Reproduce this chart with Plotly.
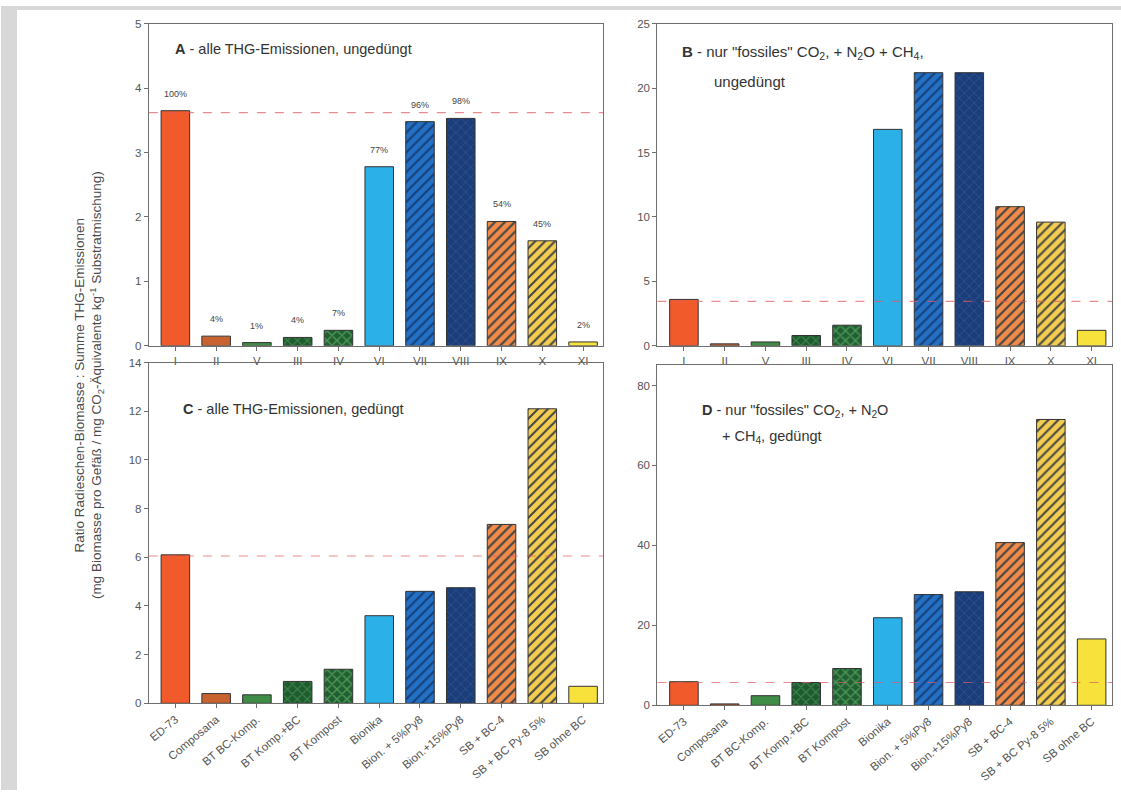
import plotly.graph_objects as go

roman = ["I", "II", "V", "III", "IV", "VI", "VII", "VIII", "IX", "X", "XI"]
names = ["ED-73", "Composana", "BT BC-Komp.", "BT Komp.+BC", "BT Kompost", "Bionika",
         "Bion. + 5%Py8", "Bion.+15%Py8", "SB + BC-4", "SB + BC Py-8 5%", "SB ohne BC"]

vals_a = [3.65, 0.15, 0.05, 0.13, 0.24, 2.78, 3.48, 3.53, 1.93, 1.63, 0.06]
pct_a = ["100%", "4%", "1%", "4%", "7%", "77%", "96%", "98%", "54%", "45%", "2%"]
vals_b = [3.6, 0.15, 0.3, 0.8, 1.6, 16.8, 21.2, 21.2, 10.8, 9.6, 1.2]
vals_c = [6.1, 0.4, 0.35, 0.9, 1.4, 3.6, 4.6, 4.75, 7.35, 12.1, 0.7]
vals_d = [5.9, 0.35, 2.4, 5.7, 9.2, 21.9, 27.7, 28.4, 40.7, 71.5, 16.6]
ref_lines = [3.62, 3.45, 6.05, 5.7]

colors = ["#f15a2b", "#c8632f", "#3f8c47", "#1f5a31", "#215f33", "#2cb0e8",
          "#2470c4", "#1b3d79", "#f08b4a", "#f3cd50", "#f7e23c"]
pat_shapes = ["", "", "", "x", "x", "", "/", "x", "/", "/", ""]
pat_fg = ["#000000", "#000000", "#000000", "#3d8a4a", "#4f9a57", "#000000",
          "#15427e", "#2d5593", "#444444", "#444444", "#000000"]
pat_solid = [0.3, 0.3, 0.3, 0.3, 0.35, 0.3, 0.32, 0.22, 0.3, 0.28, 0.3]

fig = go.Figure()

panels = [
    ("x", "y", roman, vals_a),
    ("x2", "y2", roman, vals_b),
    ("x3", "y3", names, vals_c),
    ("x4", "y4", names, vals_d),
]
for xa, ya, cats, vals in panels:
    for i, (c, v) in enumerate(zip(cats, vals)):
        pattern = dict(shape=pat_shapes[i], fgcolor=pat_fg[i], bgcolor=colors[i],
                       fgopacity=1, fillmode="replace", size=7, solidity=pat_solid[i])
        fig.add_trace(go.Bar(
            x=[c], y=[v], xaxis=xa, yaxis=ya,
            marker=dict(color=colors[i], line=dict(color="#333333", width=1), pattern=pattern),
            showlegend=False, hoverinfo="x+y",
        ))

# dashed reference lines
for i, (xa, ya) in enumerate([("x", "y"), ("x2", "y2"), ("x3", "y3"), ("x4", "y4")]):
    fig.add_shape(type="line", xref=xa + " domain", yref=ya, x0=0, x1=1,
                  y0=ref_lines[i], y1=ref_lines[i],
                  line=dict(color="rgba(225,90,100,0.7)", width=1.1, dash="dash"))

# percentage labels panel A
for c, v, t in zip(roman, vals_a, pct_a):
    fig.add_annotation(x=c, y=v, xref="x", yref="y", text=t, showarrow=False,
                       yanchor="bottom", yshift=10, font=dict(size=9, color="#444"))

tfont = dict(family="Liberation Sans, Arial, sans-serif", size=14.5, color="#333")


def title(x, y, text, size=14.5):
    f = dict(tfont)
    f["size"] = size
    fig.add_annotation(xref="paper", yref="paper", x=x/1121, y=1-y/796, xanchor="left",
                       yanchor="middle", text=text, showarrow=False, font=f)


title(172, 44, "<b>A</b> - alle THG-Emissionen, ungedüngt")
title(680, 47, '<b>B</b> - nur "fossiles" CO<sub>2</sub>, + N<sub>2</sub>O + CH<sub>4</sub>,', 15)
title(712, 77, "ungedüngt", 15)
title(180, 409, "<b>C</b> - alle THG-Emissionen, gedüngt")
title(700, 411, '<b>D</b> - nur "fossiles" CO<sub>2</sub>, + N<sub>2</sub>O')
title(720, 438, "+ CH<sub>4</sub>, gedüngt")

# shared y-axis title
fig.add_annotation(xref="paper", yref="paper", x=88/1121, y=1-385/796, textangle=-90,
                   xanchor="center", yanchor="middle",
                   text="Ratio Radieschen-Biomasse : Summe THG-Emissionen<br>"
                        "(mg Biomasse pro Gefäß / mg CO<sub>2</sub>-Äquivalente kg<sup>-1</sup> Substratmischung)",
                   showarrow=False,
                   font=dict(family="Liberation Sans, Arial, sans-serif", size=13.5, color="#4a4a4a"))

# gray frame strips (left and top)
fig.add_shape(type="rect", xref="paper", yref="paper", x0=0, x1=16/1121, y0=0, y1=1,
              fillcolor="#d8d8d8", line=dict(width=0), layer="below")
fig.add_shape(type="rect", xref="paper", yref="paper", x0=0, x1=1, y0=1-4/796, y1=1,
              fillcolor="#d8d8d8", line=dict(width=0), layer="below")

axcommon = dict(showline=True, linecolor="#6e6e6e", linewidth=1.2, mirror=True,
                ticks="outside", ticklen=4, tickcolor="#6e6e6e", showgrid=False, zeroline=False,
                tickfont=dict(family="Liberation Sans, Arial, sans-serif", size=11.5, color="#555"))

xa_dom = [148/1121, 603/1121]
xb_dom = [657/1121, 1112/1121]
top_dom = [1-345/796, 1-18/796]
c_dom = [1-708/796, 1-362/796]
d_dom = [1-710/796, 1-365/796]

fig.update_layout(
    width=1121, height=796,
    margin=dict(l=0, r=0, t=0, b=0),
    paper_bgcolor="white", plot_bgcolor="rgba(0,0,0,0)",
    barmode="overlay", bargap=0.3,
    font=dict(family="Liberation Sans, Arial, sans-serif"),
    xaxis=dict(domain=xa_dom, anchor="y", range=[-0.65, 10.5], type="category",
               categoryorder="array", categoryarray=roman, **axcommon),
    yaxis=dict(domain=top_dom, anchor="x", range=[0, 5], dtick=1, **axcommon),
    xaxis2=dict(domain=xb_dom, anchor="y2", range=[-0.65, 10.5], type="category",
                categoryorder="array", categoryarray=roman, **axcommon),
    yaxis2=dict(domain=top_dom, anchor="x2", range=[0, 25], dtick=5, **axcommon),
    xaxis3=dict(domain=xa_dom, anchor="y3", range=[-0.65, 10.5], type="category", tickangle=-40,
                categoryorder="array", categoryarray=names, **axcommon),
    yaxis3=dict(domain=c_dom, anchor="x3", range=[0, 14], dtick=2, **axcommon),
    xaxis4=dict(domain=xb_dom, anchor="y4", range=[-0.65, 10.5], type="category", tickangle=-40,
                categoryorder="array", categoryarray=names, **axcommon),
    yaxis4=dict(domain=d_dom, anchor="x4", range=[0, 85], dtick=20, **axcommon),
)

fig.write_html("out.html", config={"displayModeBar": False})

# remove default page margin so the figure fills the window exactly
with open("out.html", "r", encoding="utf-8") as f:
    html = f.read()
html = html.replace("<head>", "<head><style>html,body{margin:0;padding:0;overflow:hidden;}</style>", 1)
with open("out.html", "w", encoding="utf-8") as f:
    f.write(html)
